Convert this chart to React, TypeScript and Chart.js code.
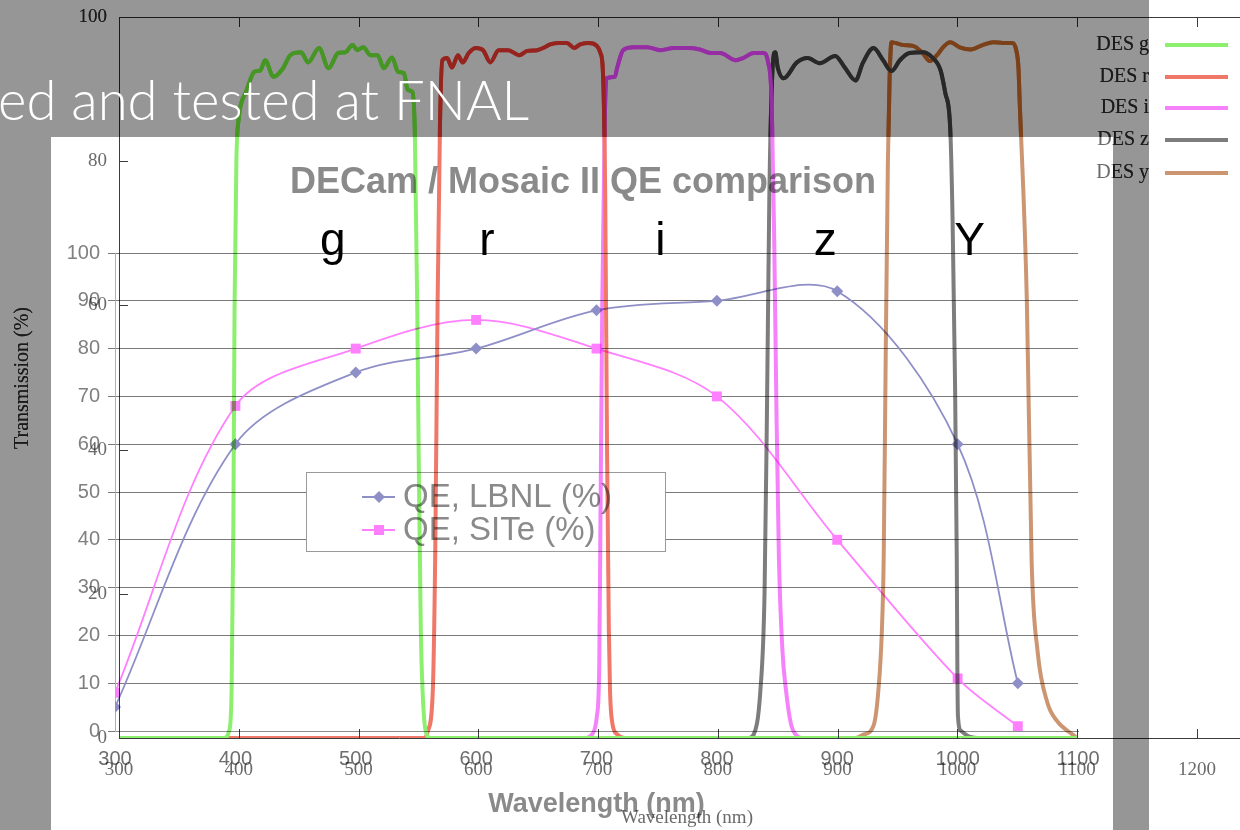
import React, { useEffect, useRef } from "react";
import { Chart, registerables } from "chart.js";

Chart.register(...registerables);

// ---------------- QE comparison chart data ----------------
const qeWavelengths = [300, 400, 500, 600, 700, 800, 900, 1000, 1050];
const qeLbnl = [5, 60, 75, 80, 88, 90, 92, 60, 10];
const qeSite = [8, 68, 80, 86, 80, 70, 40, 11, 1];
const qeSeriesNames = ["QE, LBNL (%)", "QE, SITe (%)"];
const qeTitle = "DECam / Mosaic II QE comparison";
const qeXTitle = "Wavelength (nm)";
const bandLabels = ["g", "r", "i", "z", "Y"];
const bandLabelWavelengths = [481, 609, 753, 890, 1010];

// ---------------- DES filter transmission data ----------------
const filterNames = ["DES g", "DES r", "DES i", "DES z", "DES y"];
const gWave = [300, 388, 392, 394, 395.5, 396.5, 398, 400, 402, 406, 413, 418, 422, 429, 437, 443, 452, 458, 467, 475, 483, 489, 495, 499, 504, 510, 516, 521, 528, 533, 538, 541, 545, 547, 549, 550.5, 552, 553.5, 556, 560, 1100];
const gTrans = [0, 0, 1, 6.5, 30, 60, 80, 86, 88, 89.6, 92.4, 92.6, 94, 91.7, 92.9, 94.7, 95.1, 93.7, 95.7, 92.9, 95, 95.1, 96.1, 95.4, 95.8, 94.7, 94.7, 92.9, 94.4, 92.4, 92.2, 89.9, 89.6, 84, 60, 35, 15, 6.5, 1, 0, 0];
const rWave = [300, 555, 558, 562, 564, 566, 568, 570, 574, 578, 583, 587, 592, 598, 604, 610, 617, 625, 634, 641, 649, 654, 660, 667, 674, 680, 685, 692, 699, 702, 704, 706, 707.5, 709, 710, 712, 716, 722, 1100];
const rTrans = [0, 0, 1, 6.5, 25, 60, 85, 94, 94.3, 93, 94.7, 93.7, 95, 95.7, 95.4, 93.7, 95.4, 95.4, 94.7, 95.3, 95.4, 95.7, 96.2, 96.4, 96.4, 95.7, 96.2, 96.4, 96, 95, 92.6, 75, 40, 15, 6.5, 2, 0.5, 0, 0];
const iWave = [300, 690, 695, 699, 701, 702, 703.5, 705.5, 707, 714, 716, 721, 730, 741, 752, 763, 775, 785, 794, 802, 815, 821, 830, 838, 842, 845, 847, 849, 851, 854, 857, 861, 866, 870, 1100];
const iTrans = [0, 0, 0.5, 3, 10, 30, 60, 85, 91.5, 91.7, 93, 95.4, 95.8, 95.8, 95.4, 95.7, 95.7, 95.5, 95, 95, 94, 94.3, 95, 95, 93.7, 88, 70, 45, 25, 12, 6.5, 2, 0.3, 0, 0];
const zWave = [300, 826, 830, 835.5, 839, 841, 843, 845, 847, 848, 850, 855, 866, 875, 885, 898, 906, 915, 921, 930, 938, 945, 952, 960, 971, 979, 986, 990, 994, 996, 998, 999.5, 1000, 1000.5, 1003, 1010, 1020, 1100];
const zTrans = [0, 0, 0.5, 6.5, 20, 45, 75, 90, 95, 95.1, 93, 91.5, 93.7, 94.3, 93.6, 94.6, 93, 91.2, 93.6, 95.7, 94, 92.5, 94, 95, 95.1, 94.4, 92.6, 89.4, 84.7, 72, 50, 25, 10, 3, 1, 0.2, 0, 0];
const yWave = [300, 915, 922, 930, 934, 937, 938.5, 940, 942, 943.5, 945, 955, 963, 971, 977, 983, 988, 994, 1002, 1011, 1021, 1030, 1038, 1046, 1049, 1051, 1052, 1058, 1062, 1067, 1075, 1083, 1096, 1100];
const yTrans = [0, 0, 0.5, 1.7, 6.5, 15, 25, 50, 80, 92, 96.5, 96.1, 96, 95, 93.9, 94.7, 95.8, 96.5, 95.8, 95.5, 96.1, 96.5, 96.4, 96.4, 95.5, 93, 88.5, 60.8, 24.6, 12, 5, 2.4, 0.5, 0];
const filterWaves = [gWave, rWave, iWave, zWave, yWave];
const filterTrans = [gTrans, rTrans, iTrans, zTrans, yTrans];
const filterYTitle = "Transmission (%)";
const filterXTitle = "Wavelength (nm)";
const slideText = "ed and tested at FNAL";

// ---------------- styles ----------------
const LBNL_COLOR = "#8f8fc8";
const SITE_COLOR = "#ff80ff";
const QE_TEXT = "#8a8a8a";
const SANS = "'Liberation Sans', Arial, sans-serif";
const SERIF = "'Liberation Serif', 'Times New Roman', serif";

const palettes = {
  light: {
    lines: ["rgb(140,240,110)", "rgb(240,120,105)", "rgb(245,130,250)", "rgb(125,125,125)", "rgb(205,150,115)"],
    text: "#6a6a6a",
    axis: "#3c3c3c",
  },
  dark: {
    lines: ["rgb(70,150,35)", "rgb(150,35,30)", "rgb(150,45,165)", "rgb(40,40,40)", "rgb(125,65,25)"],
    text: "#1a1a1a",
    axis: "#1a1a1a",
  },
};

const plainTick = (v: any) => String(v);

function QEChart() {
  const ref = useRef<HTMLCanvasElement>(null);
  useEffect(() => {
    const canvas = ref.current!;
    const decor = {
      id: "qeDecor",
      beforeDatasetsDraw(chart: any) {
        const ctx = chart.ctx;
        ctx.save();
        const bx = 255, by = 335, bw = 359, bh = 79;
        ctx.fillStyle = "#ffffff";
        ctx.fillRect(bx, by, bw, bh);
        ctx.strokeStyle = "#9a9a9a";
        ctx.lineWidth = 1;
        ctx.strokeRect(bx + 0.5, by + 0.5, bw, bh);
        const rows = [
          { y: 360, color: LBNL_COLOR, shape: "diamond" },
          { y: 393, color: SITE_COLOR, shape: "square" },
        ];
        rows.forEach((r, i) => {
          ctx.strokeStyle = r.color;
          ctx.lineWidth = 1.8;
          ctx.beginPath();
          ctx.moveTo(311, r.y);
          ctx.lineTo(344, r.y);
          ctx.stroke();
          ctx.fillStyle = r.color;
          ctx.beginPath();
          if (r.shape === "diamond") {
            ctx.moveTo(328, r.y - 6);
            ctx.lineTo(334, r.y);
            ctx.lineTo(328, r.y + 6);
            ctx.lineTo(322, r.y);
            ctx.closePath();
          } else {
            ctx.rect(323, r.y - 5, 10, 10);
          }
          ctx.fill();
          ctx.fillStyle = QE_TEXT;
          ctx.font = `33px ${SANS}`;
          ctx.textBaseline = "middle";
          ctx.textAlign = "left";
          ctx.fillText(qeSeriesNames[i], 352, r.y + 1);
        });
        ctx.restore();
      },
      afterDraw(chart: any) {
        const ctx = chart.ctx;
        const area = chart.chartArea;
        const xs = chart.scales.x;
        ctx.save();
        ctx.fillStyle = QE_TEXT;
        ctx.textAlign = "center";
        ctx.textBaseline = "alphabetic";
        ctx.font = `bold 36px ${SANS}`;
        ctx.fillText(qeTitle, 532, 56);
        ctx.font = `bold 27px ${SANS}`;
        ctx.fillText(qeXTitle, (area.left + area.right) / 2, 675);
        ctx.fillStyle = "#000000";
        ctx.font = `46px ${SANS}`;
        bandLabels.forEach((b, i) => {
          ctx.fillText(b, xs.getPixelForValue(bandLabelWavelengths[i]), 118);
        });
        ctx.restore();
      },
    };
    const chart = new Chart(canvas, {
      type: "line",
      data: {
        datasets: [
          {
            label: qeSeriesNames[0],
            data: qeWavelengths.map((x, i) => ({ x, y: qeLbnl[i] })),
            borderColor: LBNL_COLOR,
            backgroundColor: LBNL_COLOR,
            borderWidth: 1.8,
            pointStyle: "rectRot",
            pointRadius: 6,
            pointBorderWidth: 0,
            tension: 0.33,
          },
          {
            label: qeSeriesNames[1],
            data: qeWavelengths.map((x, i) => ({ x, y: qeSite[i] })),
            borderColor: SITE_COLOR,
            backgroundColor: SITE_COLOR,
            borderWidth: 1.8,
            pointStyle: "rect",
            pointRadius: 7,
            pointBorderWidth: 0,
            tension: 0.33,
          },
        ],
      },
      options: {
        animation: false,
        responsive: false,
        devicePixelRatio: 1,
        layout: { padding: { top: 116, right: 35, left: 0, bottom: 0 } },
        plugins: { legend: { display: false }, title: { display: false }, tooltip: { enabled: false } },
        scales: {
          x: {
            type: "linear",
            min: 300,
            max: 1100,
            ticks: { stepSize: 100, color: "#6e6e6e", font: { family: SANS, size: 20 }, padding: 16, callback: plainTick },
            grid: { display: true, drawOnChartArea: false, drawTicks: false },
            border: { color: "#8c8c8c" },
            afterFit: (s: any) => {
              s.height = 99;
              s.paddingLeft = 0;
              s.paddingRight = 0;
            },
          },
          y: {
            min: 0,
            max: 100,
            ticks: { stepSize: 10, color: "#7f7f7f", font: { family: SANS, size: 20 }, padding: 8, callback: plainTick },
            grid: { color: "#7a7a7a", tickLength: 7 },
            border: { color: "#b0b0b0" },
            afterFit: (s: any) => {
              s.width = 64;
              s.paddingTop = 0;
              s.paddingBottom = 0;
            },
          },
        },
      },
      plugins: [decor],
    } as any);
    return () => chart.destroy();
  }, []);
  return <canvas ref={ref} width={1062} height={693} style={{ display: "block" }} />;
}

function FilterChart({ variant }: { variant: "light" | "dark" }) {
  const ref = useRef<HTMLCanvasElement>(null);
  useEffect(() => {
    const pal = palettes[variant];
    const canvas = ref.current!;
    const decor = {
      id: "filterDecor",
      afterDraw(chart: any) {
        const ctx = chart.ctx;
        const a = chart.chartArea;
        const xs = chart.scales.x;
        const ys = chart.scales.y;
        ctx.save();
        ctx.strokeStyle = pal.axis;
        ctx.lineWidth = 1;
        ctx.beginPath();
        ctx.moveTo(a.left, a.top + 0.5);
        ctx.lineTo(a.right, a.top + 0.5);
        xs.ticks.forEach((t: any) => {
          const px = Math.round(xs.getPixelForValue(t.value)) + 0.5;
          ctx.moveTo(px, a.top);
          ctx.lineTo(px, a.top + 10);
          ctx.moveTo(px, a.bottom);
          ctx.lineTo(px, a.bottom - 9);
        });
        ys.ticks.forEach((t: any) => {
          const py = Math.round(ys.getPixelForValue(t.value)) + 0.5;
          ctx.moveTo(a.left, py);
          ctx.lineTo(a.left + 9, py);
        });
        ctx.stroke();
        // titles
        ctx.fillStyle = pal.text;
        ctx.font = `19px ${SERIF}`;
        ctx.textAlign = "center";
        ctx.textBaseline = "middle";
        ctx.fillText(filterXTitle, 687, 818);
        ctx.save();
        ctx.translate(23, 378);
        ctx.rotate(-Math.PI / 2);
        ctx.font = `20px ${SERIF}`;
        ctx.fillText(filterYTitle, 0, 0);
        ctx.restore();
        // legend
        const rowY = [45, 77, 108, 140, 173];
        filterNames.forEach((n, i) => {
          ctx.fillStyle = pal.text;
          ctx.font = `20px ${SERIF}`;
          ctx.textAlign = "right";
          ctx.textBaseline = "middle";
          ctx.fillText(n, 1149, rowY[i]);
          ctx.strokeStyle = pal.lines[i];
          ctx.lineWidth = 4;
          ctx.beginPath();
          ctx.moveTo(1165, rowY[i]);
          ctx.lineTo(1228, rowY[i]);
          ctx.stroke();
        });
        ctx.restore();
      },
    };
    const chart = new Chart(canvas, {
      type: "line",
      data: {
        datasets: filterNames.map((name, k) => ({
          label: name,
          data: filterWaves[k].map((x, i) => ({ x, y: filterTrans[k][i] })),
          borderColor: pal.lines[k],
          backgroundColor: pal.lines[k],
          borderWidth: 4,
          pointRadius: 0,
          cubicInterpolationMode: "monotone",
        })),
      },
      options: {
        animation: false,
        responsive: false,
        devicePixelRatio: 1,
        layout: { padding: { top: 17, left: 0, right: 0, bottom: 0 } },
        plugins: { legend: { display: false }, title: { display: false }, tooltip: { enabled: false } },
        scales: {
          x: {
            type: "linear",
            min: 300,
            max: 1236,
            ticks: {
              stepSize: 100,
              includeBounds: false,
              color: pal.text,
              font: { family: SERIF, size: 19 },
              padding: 21,
              callback: plainTick,
            },
            grid: { display: true, drawOnChartArea: false, drawTicks: false },
            border: { color: pal.axis },
            afterFit: (s: any) => {
              s.height = 92;
              s.paddingLeft = 0;
              s.paddingRight = 0;
            },
          },
          y: {
            min: 0,
            max: 100,
            ticks: { stepSize: 20, color: pal.text, font: { family: SERIF, size: 19 }, padding: 12, callback: plainTick },
            grid: { display: true, drawOnChartArea: false, drawTicks: false },
            border: { color: pal.axis },
            afterFit: (s: any) => {
              s.width = 119;
              s.paddingTop = 0;
              s.paddingBottom = 0;
            },
          },
        },
      },
      plugins: [decor],
    } as any);
    return () => chart.destroy();
  }, [variant]);
  const base: React.CSSProperties = { position: "absolute", left: 0, top: 0, display: "block" };
  const style: React.CSSProperties =
    variant === "light"
      ? { ...base, mixBlendMode: "multiply" }
      : {
          ...base,
          clipPath: "polygon(0px 0px, 1149px 0px, 1149px 830px, 1113px 830px, 1113px 137px, 51px 137px, 51px 830px, 0px 830px)",
        };
  return <canvas ref={ref} width={1240} height={830} style={style} />;
}

export default function App() {
  return (
    <div
      style={{
        position: "fixed",
        left: 0,
        top: 0,
        width: 1240,
        height: 830,
        background: "#969696",
        overflow: "hidden",
      }}
    >
      <div style={{ position: "absolute", left: 1149, top: 0, width: 91, height: 830, background: "#ffffff" }} />
      <div style={{ position: "absolute", left: 51, top: 137, width: 1062, height: 693, background: "#ffffff" }}>
        <QEChart />
      </div>
      <FilterChart variant="light" />
      <FilterChart variant="dark" />
      <div
        style={{
          position: "absolute",
          left: -2,
          top: 72,
          fontFamily: "Lato, 'Open Sans', sans-serif",
          fontWeight: 300,
          fontSize: 54.5,
          lineHeight: "55px",
          color: "#ffffff",
          whiteSpace: "nowrap",
        }}
      >
        {slideText}
      </div>
    </div>
  );
}
